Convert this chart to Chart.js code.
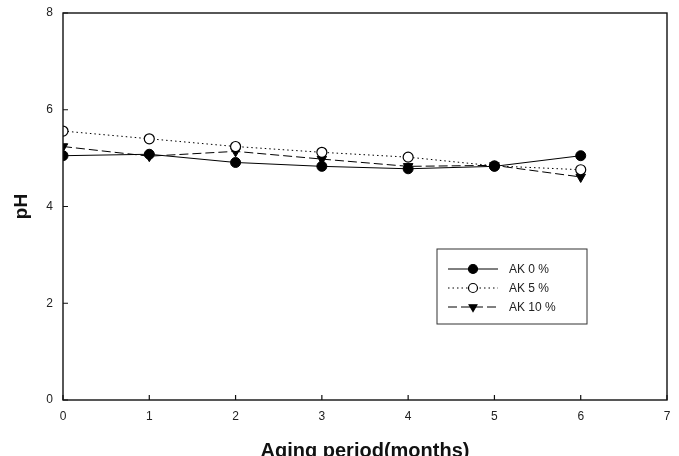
<!DOCTYPE html>
<html>
<head>
<meta charset="utf-8">
<script src="https://cdn.jsdelivr.net/npm/chart.js@4.4.1/dist/chart.umd.min.js"></script>
<style>
  html, body { margin: 0; padding: 0; background: #fff; }
  #wrap { width: 679px; height: 456px; }
</style>
</head>
<body>
<div id="wrap"><canvas id="myChart" width="679" height="456"></canvas></div>
<script>
// values
const months = [0, 1, 2, 3, 4, 5, 6];
const ak0  = [5.05, 5.08, 4.91, 4.83, 4.78, 4.83, 5.05];
const ak5  = [5.56, 5.40, 5.24, 5.12, 5.02, 4.84, 4.76];
const ak10 = [5.24, 5.04, 5.14, 4.98, 4.83, 4.85, 4.61];
const seriesNames = ['AK 0 %', 'AK 5 %', 'AK 10 %'];

function pts(vals) {
  return months.map((m, i) => ({ x: m, y: vals[i] }));
}

const FONT = "'Liberation Sans', Arial, sans-serif";

// inward ticks + full frame
const frame = {
  id: 'frame',
  afterDraw(chart) {
    const ctx = chart.ctx;
    const a = chart.chartArea;
    const xs = chart.scales.x, ys = chart.scales.y;
    ctx.save();
    ctx.strokeStyle = '#111';
    ctx.lineWidth = 1.4;
    ctx.strokeRect(a.left, a.top, a.right - a.left, a.bottom - a.top);
    ctx.lineWidth = 1.2;
    ctx.beginPath();
    xs.ticks.forEach(t => {
      const px = xs.getPixelForValue(t.value);
      ctx.moveTo(px, a.bottom);
      ctx.lineTo(px, a.bottom - 5);
    });
    ys.ticks.forEach(t => {
      const py = ys.getPixelForValue(t.value);
      ctx.moveTo(a.left, py);
      ctx.lineTo(a.left + 5, py);
    });
    ctx.stroke();
    ctx.restore();
  }
};

// legend box inside the plot
const boxLegend = {
  id: 'boxLegend',
  afterDraw(chart) {
    const ctx = chart.ctx;
    const left = 437, top = 249, w = 150, h = 75;
    ctx.save();
    ctx.fillStyle = '#fff';
    ctx.fillRect(left, top, w, h);
    ctx.strokeStyle = '#333';
    ctx.lineWidth = 1;
    ctx.strokeRect(left, top, w, h);
    chart.data.datasets.forEach((ds, i) => {
      const y = top + 20 + i * 19;
      ctx.beginPath();
      ctx.setLineDash(ds.borderDash || []);
      ctx.strokeStyle = '#000';
      ctx.lineWidth = 1;
      ctx.moveTo(left + 11, y);
      ctx.lineTo(left + 61, y);
      ctx.stroke();
      ctx.setLineDash([]);
      ctx.fillStyle = ds.pointBackgroundColor;
      ctx.strokeStyle = '#000';
      ctx.lineWidth = 1.2;
      Chart.helpers.drawPoint(ctx, {
        pointStyle: ds.pointStyle,
        rotation: ds.pointRotation || 0,
        radius: 4.5,
        borderWidth: 1.2
      }, left + 36, y);
      ctx.fillStyle = '#222';
      ctx.font = '12px ' + FONT;
      ctx.textBaseline = 'middle';
      ctx.fillText(ds.label, left + 72, y + 1);
    });
    ctx.restore();
  }
};

const data = {
  datasets: [
    {
      label: seriesNames[0],
      data: pts(ak0),
      borderColor: '#000',
      borderWidth: 1,
      pointStyle: 'circle',
      pointRadius: 5,
      pointBackgroundColor: '#000',
      pointBorderColor: '#000'
    },
    {
      label: seriesNames[1],
      data: pts(ak5),
      borderColor: '#000',
      borderWidth: 1,
      borderDash: [1.5, 3],
      pointStyle: 'circle',
      pointRadius: 5,
      pointBackgroundColor: '#fff',
      pointBorderColor: '#000',
      pointBorderWidth: 1.2
    },
    {
      label: seriesNames[2],
      data: pts(ak10),
      borderColor: '#000',
      borderWidth: 1,
      borderDash: [9, 4],
      pointStyle: 'triangle',
      pointRotation: 180,
      pointRadius: 5.5,
      pointBackgroundColor: '#000',
      pointBorderColor: '#000'
    }
  ]
};

const config = {
  type: 'line',
  data: data,
  options: {
    responsive: false,
    animation: false,
    layout: { padding: { top: 13, right: 12, left: 0, bottom: 0 } },
    plugins: {
      legend: { display: false },
      tooltip: { enabled: false }
    },
    scales: {
      x: {
        type: 'linear',
        min: 0,
        max: 7,
        grid: { display: false },
        border: { display: false },
        ticks: {
          stepSize: 1,
          padding: 1,
          color: '#222',
          font: { family: FONT, size: 12 }
        },
        title: {
          display: true,
          text: 'Aging period(months)',
          color: '#111',
          font: { family: FONT, size: 20, weight: 'bold', lineHeight: '10px' },
          padding: 0
        },
        afterFit(s) { s.height = 56; }
      },
      y: {
        min: 0,
        max: 8,
        grid: { display: false },
        border: { display: false },
        ticks: {
          stepSize: 2,
          padding: 2,
          color: '#222',
          font: { family: FONT, size: 12 }
        },
        title: {
          display: true,
          text: 'pH',
          color: '#111',
          font: { family: FONT, size: 19, weight: 'bold', lineHeight: '44px' },
          padding: 0
        },
        afterFit(s) { s.width = 63; }
      }
    }
  },
  plugins: [frame, boxLegend]
};

const myChart = new Chart(document.getElementById('myChart'), config);
</script>
</body>
</html>
